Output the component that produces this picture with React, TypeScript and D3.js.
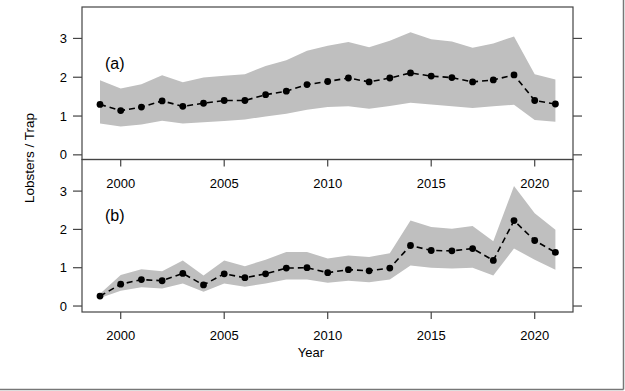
import * as d3 from "d3";
import React from "react";

// survey years
const years = d3.range(1999, 2022);

// panel (a)
const meanA = [1.30, 1.14, 1.23, 1.39, 1.25, 1.33, 1.40, 1.40, 1.55, 1.64, 1.81, 1.89, 1.98, 1.88, 1.98, 2.11, 2.03, 1.99, 1.88, 1.93, 2.06, 1.40, 1.31];
const upperA = [1.92, 1.71, 1.82, 2.05, 1.87, 1.99, 2.04, 2.08, 2.29, 2.44, 2.68, 2.81, 2.91, 2.77, 2.94, 3.16, 2.98, 2.92, 2.76, 2.87, 3.05, 2.08, 1.94];
const lowerA = [0.81, 0.73, 0.78, 0.88, 0.81, 0.84, 0.87, 0.91, 0.99, 1.06, 1.16, 1.23, 1.25, 1.19, 1.26, 1.34, 1.30, 1.25, 1.21, 1.25, 1.29, 0.90, 0.85];

// panel (b)
const meanB = [0.26, 0.57, 0.69, 0.66, 0.85, 0.55, 0.84, 0.74, 0.84, 0.99, 1.00, 0.87, 0.95, 0.92, 0.99, 1.58, 1.45, 1.44, 1.50, 1.19, 2.23, 1.71, 1.40];
const upperB = [0.32, 0.81, 0.96, 0.91, 1.19, 0.80, 1.19, 1.04, 1.21, 1.41, 1.41, 1.24, 1.32, 1.28, 1.38, 2.23, 2.06, 2.02, 2.09, 1.69, 3.13, 2.42, 1.99];
const lowerB = [0.21, 0.40, 0.49, 0.46, 0.59, 0.37, 0.59, 0.50, 0.59, 0.69, 0.69, 0.61, 0.66, 0.62, 0.69, 1.06, 1.00, 0.98, 1.00, 0.80, 1.50, 1.21, 0.95];

const xTicks = [2000, 2005, 2010, 2015, 2020];
const yTicks = [0, 1, 2, 3];

const W = 625;
const H = 391;
const left = 82;
const right = 573;
const axisCol = "#444";
const font = "'Liberation Sans', Arial, sans-serif";

const x = d3.scaleLinear().domain([1998.13, 2021.85]).range([left, right]);

function Panel({ top, bottom, dom, mean, lo, hi, tag, labelY, tickLabelY }) {
  const y = d3.scaleLinear().domain(dom).range([bottom, top]);
  const area = d3
    .area<number>()
    .x((d, i) => x(years[i]))
    .y0((d, i) => y(lo[i]))
    .y1((d, i) => y(hi[i]));
  const line = d3
    .line<number>()
    .x((d, i) => x(years[i]))
    .y((d) => y(d));

  return (
    <g>
      <path d={area(mean)} fill="#bfbfbf" />
      <path d={line(mean)} fill="none" stroke="#000" strokeWidth={1.6} strokeDasharray="6,4" />
      {mean.map((d, i) => (
        <circle key={i} cx={x(years[i])} cy={y(d)} r={3.4} fill="#000" />
      ))}
      <rect x={left} y={top} width={right - left} height={bottom - top} fill="none" stroke={axisCol} strokeWidth={1.2} />
      {yTicks.map((t) => (
        <g key={t}>
          <line x1={left - 9} x2={left} y1={y(t)} y2={y(t)} stroke={axisCol} strokeWidth={1.2} />
          <line x1={right} x2={right + 9} y1={y(t)} y2={y(t)} stroke={axisCol} strokeWidth={1.2} />
          <text x={left - 15} y={y(t)} dy="0.35em" textAnchor="end" fontSize={13} fontFamily={font}>
            {t}
          </text>
        </g>
      ))}
      {xTicks.map((t) => (
        <g key={t}>
          <line x1={x(t)} x2={x(t)} y1={bottom} y2={bottom + 7} stroke={axisCol} strokeWidth={1.2} />
          <text x={x(t)} y={tickLabelY} dy="0.35em" textAnchor="middle" fontSize={13} fontFamily={font}>
            {t}
          </text>
        </g>
      ))}
      <text x={105} y={labelY} dy="0.35em" fontSize={16} fontFamily={font}>
        {tag}
      </text>
    </g>
  );
}

export default function App() {
  return (
    <svg width={W} height={H} style={{ position: "absolute", left: 0, top: 0, background: "#fff" }}>
      <rect width={W} height={H} fill="#fff" />
      <Panel top={7} bottom={159.5} dom={[-0.12, 3.81]} mean={meanA} lo={lowerA} hi={upperA} tag="(a)" labelY={63.5} tickLabelY={183} />
      <Panel top={159.5} bottom={312} dom={[-0.156, 3.825]} mean={meanB} lo={lowerB} hi={upperB} tag="(b)" labelY={215} tickLabelY={335} />
      <text x={311} y={352} dy="0.35em" textAnchor="middle" fontSize={13} fontFamily={font}>
        Year
      </text>
      <text transform="translate(29,158) rotate(-90)" textAnchor="middle" dy="0.35em" fontSize={13.5} fontFamily={font}>
        Lobsters / Trap
      </text>
      <line x1={0} x2={623.5} y1={389.5} y2={389.5} stroke="#777" strokeWidth={1.5} />
      <line x1={623.5} x2={623.5} y1={0} y2={389.5} stroke="#777" strokeWidth={1.5} />
    </svg>
  );
}
